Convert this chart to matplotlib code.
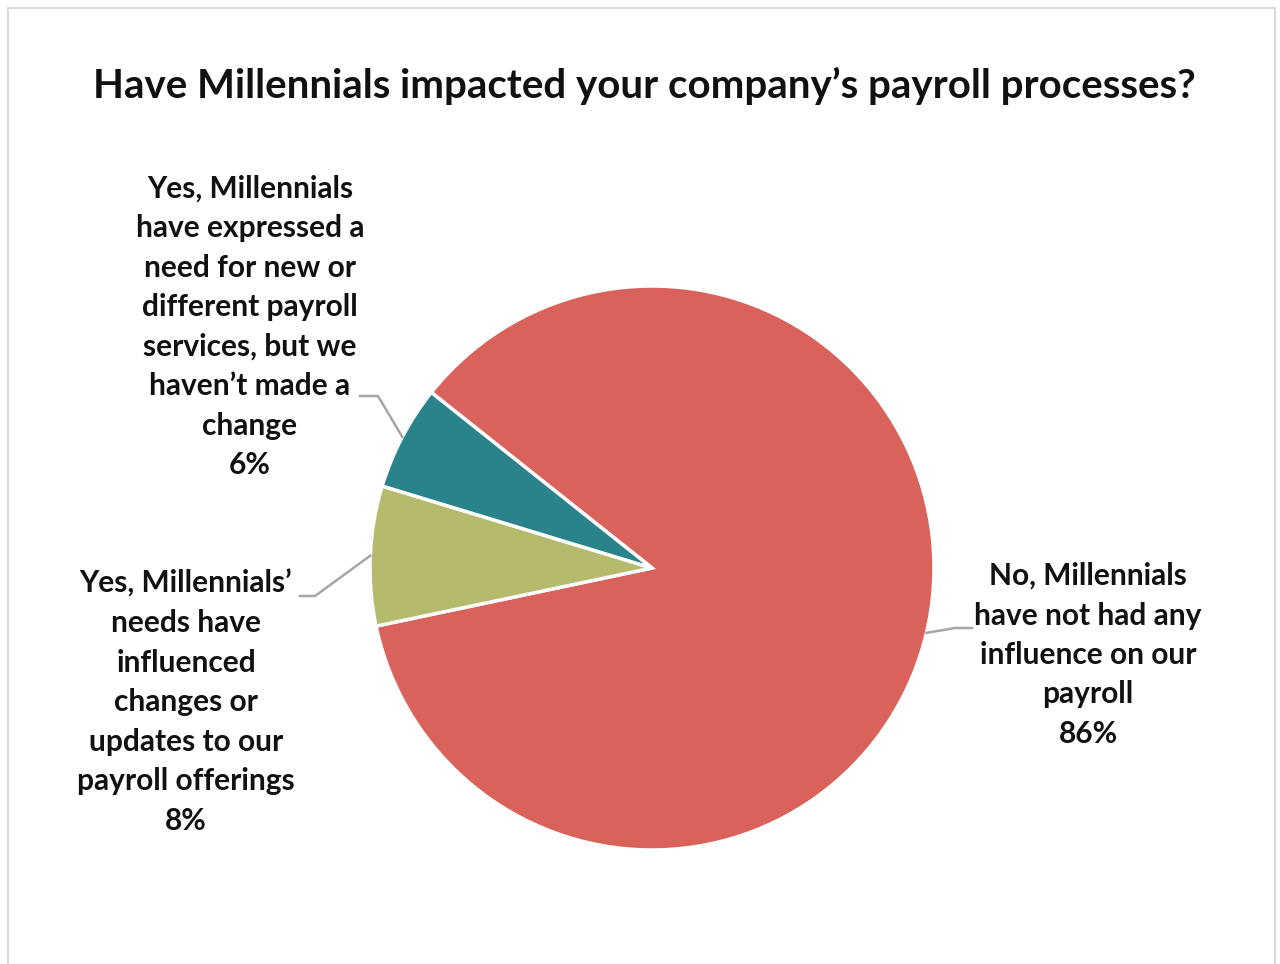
import numpy as np
import matplotlib
matplotlib.use("Agg")
import matplotlib.pyplot as plt
from matplotlib.patches import Rectangle

categories = [
    "No, Millennials\nhave not had any\ninfluence on our\npayroll",
    "Yes, Millennials’\nneeds have\ninfluenced\nchanges or\nupdates to our\npayroll offerings",
    "Yes, Millennials\nhave expressed a\nneed for new or\ndifferent payroll\nservices, but we\nhaven’t made a\nchange",
]
values = [86, 8, 6]
colors = ["#D9635A", "#B5BA6C", "#2A838B"]
title = "Have Millennials impacted your company’s payroll processes?"

plt.rcParams['font.family'] = ['Lato', 'DejaVu Sans']

W, H = 1280, 964
fig = plt.figure(figsize=(W / 100, H / 100), dpi=100)
fig.patch.set_facecolor("white")

# chart border
fig.add_artist(Rectangle((8 / W, -0.01), (1275 - 8) / W, 1 - 8 / H + 0.01,
                         transform=fig.transFigure, fill=False,
                         edgecolor="#D9D9D9", linewidth=1.5))

cx, cy, R = 652, 568, 282
ax = fig.add_axes([(cx - R) / W, (H - cy - R) / H, 2 * R / W, 2 * R / H])

wedges, _ = ax.pie(values, colors=colors, startangle=141.5, counterclock=False,
                   radius=1, wedgeprops=dict(edgecolor="white", linewidth=2.5))
ax.set_xlim(-1, 1)
ax.set_ylim(-1, 1)
ax.set_aspect("equal")
ax.axis("off")
# thin light outline
circ = plt.Circle((0, 0), 1.0, fill=False, edgecolor="#E0E0E0", linewidth=2,
                  zorder=0, clip_on=False)
ax.add_patch(circ)
for w in wedges:
    w.set_zorder(1)
    w.set_clip_on(False)

def px2d(px, py):
    return ((px - cx) / R, (cy - py) / R)

# label placements (pixel centres), elbow points
label_pos = [(1088, 655), (186, 702), (250, 327)]
elbows = [[(955, 628), (972, 628)], [(315, 596), (300, 596)], [(378, 396), (360, 396)]]

for w, cat, v, lp, el in zip(wedges, categories, values, label_pos, elbows):
    mid = np.deg2rad((w.theta1 + w.theta2) / 2)
    pts = [(np.cos(mid), np.sin(mid))] + [px2d(*p) for p in el]
    xs, ys = zip(*pts)
    ax.plot(xs, ys, color="#A6A6A6", linewidth=1.8, clip_on=False, zorder=3)
    tx, ty = px2d(*lp)
    ax.text(tx, ty, f"{cat}\n{v}%", ha="center", va="center", multialignment="center",
            fontsize=21.5, fontweight="bold", color="#111111", linespacing=1.5,
            clip_on=False)

fig.text(644 / W, 1 - 86 / H, title, ha="center", va="center",
         fontsize=29, fontweight="bold", color="#111111")

fig.savefig("out.png", dpi=100, facecolor="white")
